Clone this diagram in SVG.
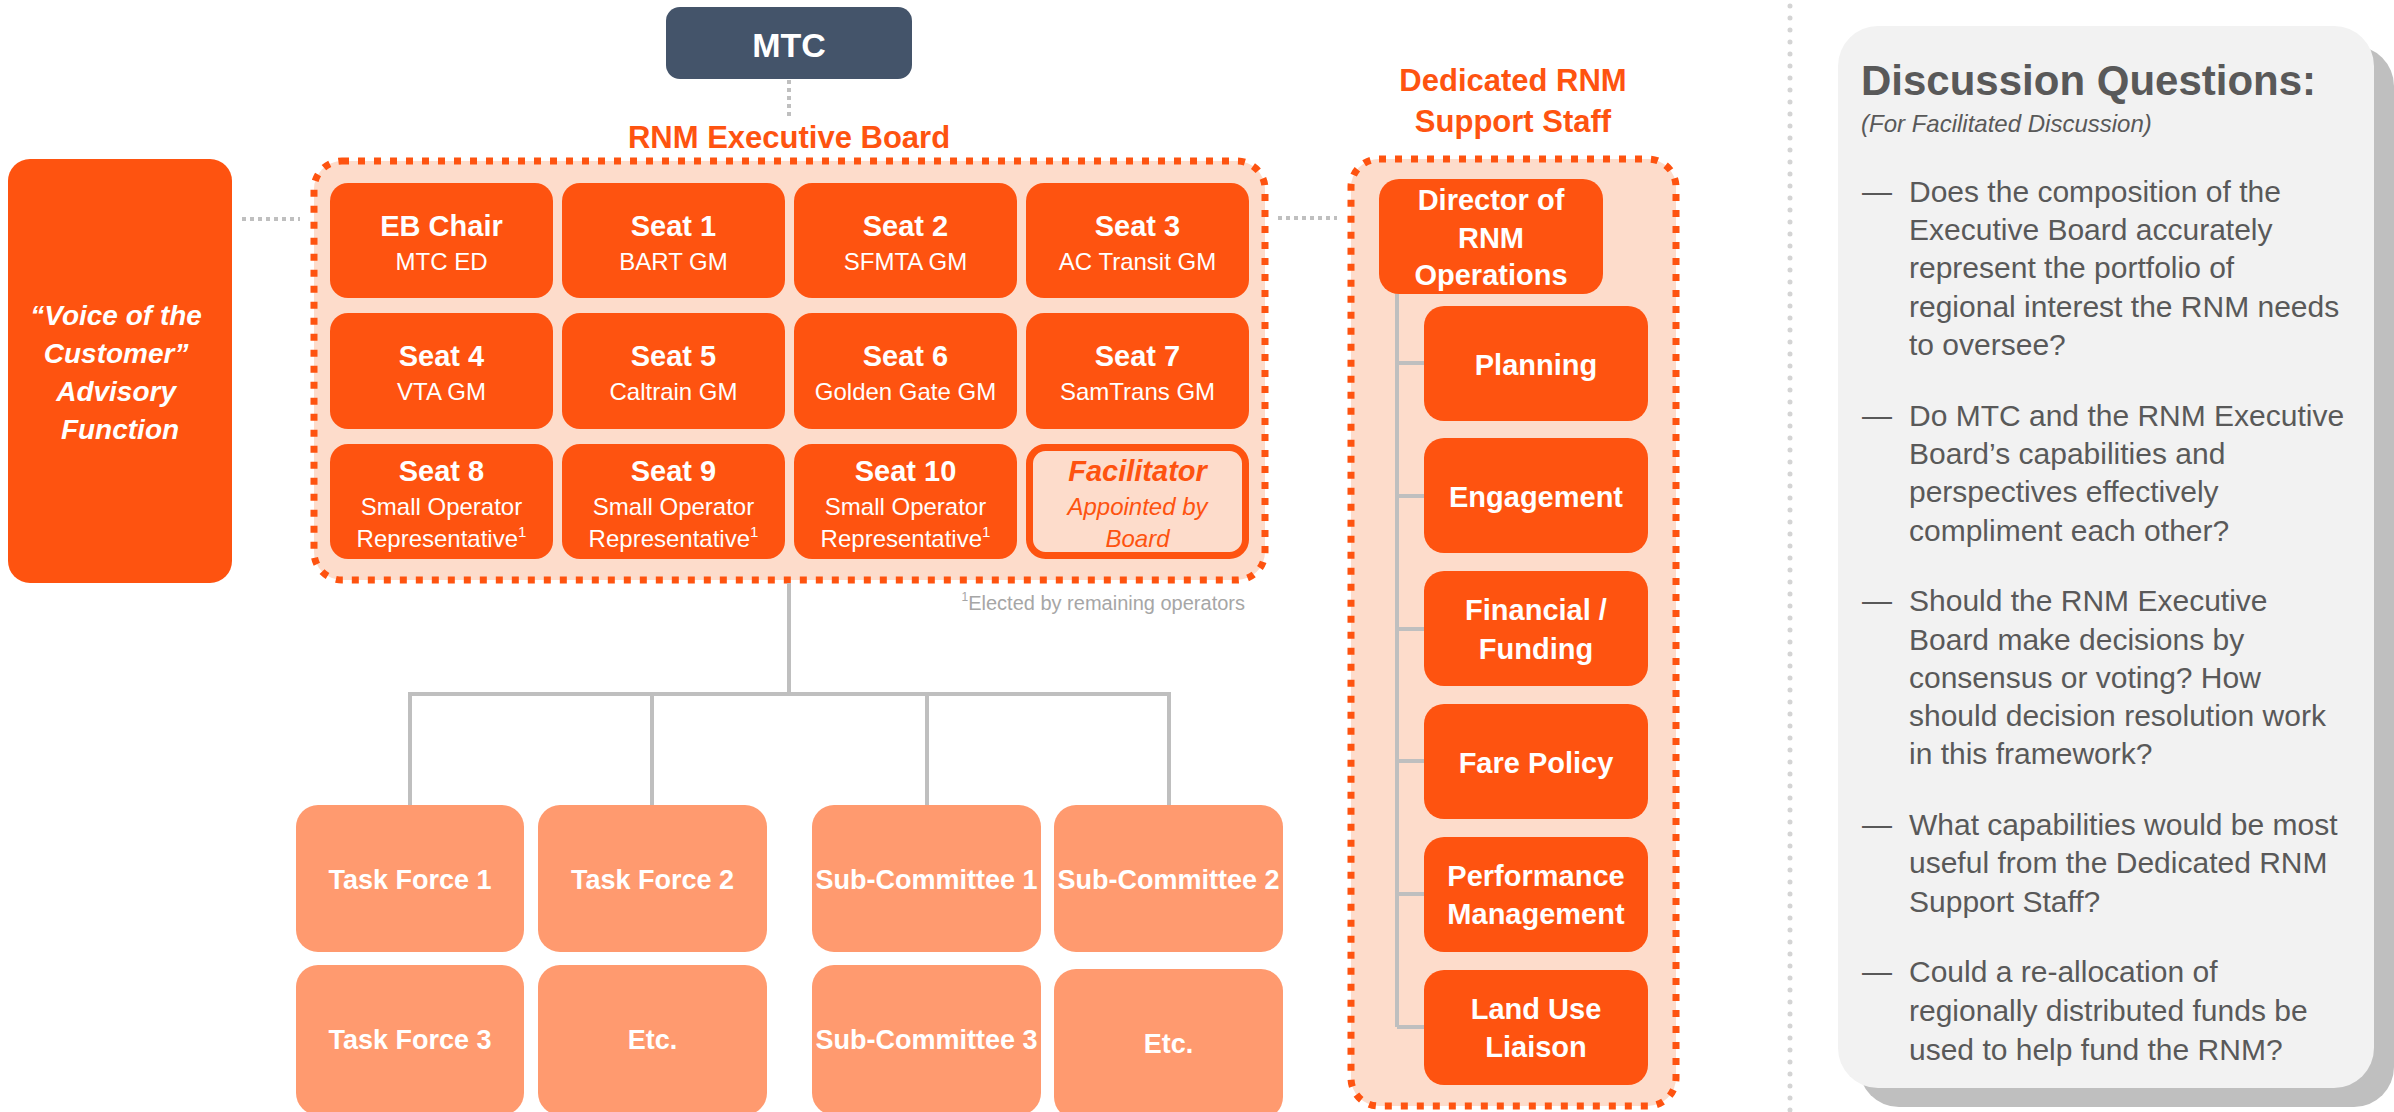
<svg xmlns="http://www.w3.org/2000/svg" width="2394" height="1112" viewBox="0 0 2394 1112">
<style>
text{font-family:"Liberation Sans",Arial,sans-serif}
.org{fill:#FE5310}
.salmon{fill:#FF9A6F}
.peach{fill:#FDDCCB}
.t{fill:#fff;font-weight:bold;font-size:29px;text-anchor:middle}
.s{fill:#fff;font-size:24px;text-anchor:middle}
.lo{fill:#fff;font-weight:bold;font-size:27px;text-anchor:middle}
.ttl{fill:#FE5310;font-weight:bold;font-size:31px;text-anchor:middle}
.q{fill:#595959;font-size:30px}
.dash{fill:none;stroke:#FE5310;stroke-width:7;stroke-dasharray:7 9}
.dot{fill:none;stroke:#BFBFBF;stroke-width:4;stroke-dasharray:4 4}
.ln{fill:none;stroke:#BFBFBF;stroke-width:4}
</style>

<!-- separator -->
<line x1="1790" y1="6" x2="1790" y2="1112" stroke="#D4D4D4" stroke-width="5" stroke-linecap="round" stroke-dasharray="0 12"/>

<!-- containers -->
<g id="exec-board">
<rect x="314" y="161" width="951" height="419" rx="28" class="peach"/>
<rect x="314" y="161" width="951" height="419" rx="28" class="dash"/>
<text x="789" y="148" class="ttl">RNM Executive Board</text>
</g>
<g id="support-staff">
<rect x="1351" y="159" width="325" height="947" rx="28" class="peach"/>
<rect x="1351" y="159" width="325" height="947" rx="28" class="dash"/>
<text x="1513" y="91" class="ttl">Dedicated RNM</text>
<text x="1513" y="132" class="ttl">Support Staff</text>
</g>

<!-- connectors -->
<g id="connectors">
<line x1="789" y1="80" x2="789" y2="118" class="dot"/>
<line x1="242" y1="219" x2="300" y2="219" class="dot"/>
<line x1="1278" y1="218" x2="1337" y2="218" class="dot"/>
<polyline points="789,583 789,694" class="ln"/>
<polyline points="410,805 410,694 1169,694 1169,805" class="ln"/>
<line x1="652" y1="694" x2="652" y2="805" class="ln"/>
<line x1="927" y1="694" x2="927" y2="805" class="ln"/>
<line x1="1397" y1="294" x2="1397" y2="1027" class="ln"/>
<line x1="1397" y1="363" x2="1426" y2="363" class="ln"/>
<line x1="1397" y1="496" x2="1426" y2="496" class="ln"/>
<line x1="1397" y1="629" x2="1426" y2="629" class="ln"/>
<line x1="1397" y1="761" x2="1426" y2="761" class="ln"/>
<line x1="1397" y1="894" x2="1426" y2="894" class="ln"/>
<line x1="1397" y1="1027" x2="1426" y2="1027" class="ln"/>
</g>

<!-- MTC -->
<g id="mtc">
<rect x="666" y="7" width="246" height="72" rx="14" fill="#44546A"/>
<text x="789" y="57" fill="#fff" font-weight="bold" font-size="34" text-anchor="middle">MTC</text>
</g>

<!-- Voice of the Customer -->
<g id="voice">
<rect x="8" y="159" width="224" height="424" rx="22" class="org"/>
<text fill="#fff" font-weight="bold" font-style="italic" font-size="28" text-anchor="middle">
<tspan x="120" y="325">“Voice of the</tspan>
<tspan x="120" y="363">Customer”</tspan>
<tspan x="120" y="401">Advisory</tspan>
<tspan x="120" y="439">Function</tspan>
</text>
</g>

<!-- Seats row 1 -->
<g id="eb-chair"><rect x="330" y="183" width="223" height="115" rx="18" class="org"/><text x="441.5" y="236" class="t">EB Chair</text><text x="441.5" y="270" class="s">MTC ED</text></g>
<g id="seat1"><rect x="562" y="183" width="223" height="115" rx="18" class="org"/><text x="673.5" y="236" class="t">Seat 1</text><text x="673.5" y="270" class="s">BART GM</text></g>
<g id="seat2"><rect x="794" y="183" width="223" height="115" rx="18" class="org"/><text x="905.5" y="236" class="t">Seat 2</text><text x="905.5" y="270" class="s">SFMTA GM</text></g>
<g id="seat3"><rect x="1026" y="183" width="223" height="115" rx="18" class="org"/><text x="1137.5" y="236" class="t">Seat 3</text><text x="1137.5" y="270" class="s">AC Transit GM</text></g>

<!-- Seats row 2 -->
<g id="seat4"><rect x="330" y="313" width="223" height="116" rx="18" class="org"/><text x="441.5" y="366" class="t">Seat 4</text><text x="441.5" y="400" class="s">VTA GM</text></g>
<g id="seat5"><rect x="562" y="313" width="223" height="116" rx="18" class="org"/><text x="673.5" y="366" class="t">Seat 5</text><text x="673.5" y="400" class="s">Caltrain GM</text></g>
<g id="seat6"><rect x="794" y="313" width="223" height="116" rx="18" class="org"/><text x="905.5" y="366" class="t">Seat 6</text><text x="905.5" y="400" class="s">Golden Gate GM</text></g>
<g id="seat7"><rect x="1026" y="313" width="223" height="116" rx="18" class="org"/><text x="1137.5" y="366" class="t">Seat 7</text><text x="1137.5" y="400" class="s">SamTrans GM</text></g>

<!-- Seats row 3 -->
<g id="seat8"><rect x="330" y="444" width="223" height="115" rx="18" class="org"/><text x="441.5" y="481" class="t">Seat 8</text><text x="441.5" y="515" class="s">Small Operator</text><text x="441.5" y="547" class="s">Representative<tspan font-size="15" dy="-10">1</tspan></text></g>
<g id="seat9"><rect x="562" y="444" width="223" height="115" rx="18" class="org"/><text x="673.5" y="481" class="t">Seat 9</text><text x="673.5" y="515" class="s">Small Operator</text><text x="673.5" y="547" class="s">Representative<tspan font-size="15" dy="-10">1</tspan></text></g>
<g id="seat10"><rect x="794" y="444" width="223" height="115" rx="18" class="org"/><text x="905.5" y="481" class="t">Seat 10</text><text x="905.5" y="515" class="s">Small Operator</text><text x="905.5" y="547" class="s">Representative<tspan font-size="15" dy="-10">1</tspan></text></g>
<g id="facilitator"><rect x="1029.5" y="447.5" width="216" height="108" rx="16" class="peach" stroke="#FE5310" stroke-width="7"/><text x="1137.5" y="481" fill="#FE5310" font-weight="bold" font-style="italic" font-size="29" text-anchor="middle">Facilitator</text><text x="1137.5" y="515" fill="#FE5310" font-style="italic" font-size="24" text-anchor="middle">Appointed by</text><text x="1137.5" y="547" fill="#FE5310" font-style="italic" font-size="24" text-anchor="middle">Board</text></g>

<g id="footnote"><text x="1245" y="610" fill="#A6A6A6" font-size="20" text-anchor="end"><tspan font-size="12" dy="-9">1</tspan><tspan dy="9">Elected by remaining operators</tspan></text></g>

<!-- lower boxes -->
<g id="task-force-1"><rect x="296" y="805" width="228" height="147" rx="22" class="salmon"/><text x="410" y="889" class="lo">Task Force 1</text></g>
<g id="task-force-2"><rect x="538" y="805" width="229" height="147" rx="22" class="salmon"/><text x="652.5" y="889" class="lo">Task Force 2</text></g>
<g id="sub-committee-1"><rect x="812" y="805" width="229" height="147" rx="22" class="salmon"/><text x="926.5" y="889" class="lo" font-size="26">Sub-Committee 1</text></g>
<g id="sub-committee-2"><rect x="1054" y="805" width="229" height="147" rx="22" class="salmon"/><text x="1168.5" y="889" class="lo" font-size="26">Sub-Committee 2</text></g>
<g id="task-force-3"><rect x="296" y="965" width="228" height="150" rx="22" class="salmon"/><text x="410" y="1049" class="lo">Task Force 3</text></g>
<g id="etc-1"><rect x="538" y="965" width="229" height="150" rx="22" class="salmon"/><text x="652.5" y="1049" class="lo">Etc.</text></g>
<g id="sub-committee-3"><rect x="812" y="965" width="229" height="150" rx="22" class="salmon"/><text x="926.5" y="1049" class="lo" font-size="26">Sub-Committee 3</text></g>
<g id="etc-2"><rect x="1054" y="969" width="229" height="150" rx="22" class="salmon"/><text x="1168.5" y="1053" class="lo">Etc.</text></g>

<!-- support staff nodes -->
<g id="director"><rect x="1379" y="179" width="224" height="115" rx="20" class="org"/><text x="1491" y="210" class="t">Director of</text><text x="1491" y="248" class="t">RNM</text><text x="1491" y="285" class="t">Operations</text></g>
<g id="planning"><rect x="1424" y="306" width="224" height="115" rx="20" class="org"/><text x="1536" y="375" class="t">Planning</text></g>
<g id="engagement"><rect x="1424" y="438" width="224" height="115" rx="20" class="org"/><text x="1536" y="507" class="t">Engagement</text></g>
<g id="financial"><rect x="1424" y="571" width="224" height="115" rx="20" class="org"/><text x="1536" y="620" class="t">Financial /</text><text x="1536" y="659" class="t">Funding</text></g>
<g id="fare-policy"><rect x="1424" y="704" width="224" height="115" rx="20" class="org"/><text x="1536" y="773" class="t">Fare Policy</text></g>
<g id="performance"><rect x="1424" y="837" width="224" height="115" rx="20" class="org"/><text x="1536" y="886" class="t">Performance</text><text x="1536" y="924" class="t">Management</text></g>
<g id="land-use"><rect x="1424" y="970" width="224" height="115" rx="20" class="org"/><text x="1536" y="1019" class="t">Land Use</text><text x="1536" y="1057" class="t">Liaison</text></g>

<!-- discussion panel -->
<g id="discussion">
<rect x="1859" y="46" width="535" height="1061" rx="40" fill="#BFBFBF"/>
<rect x="1838" y="26" width="536" height="1062" rx="40" fill="#F2F2F2"/>
<text x="1861" y="95" fill="#595959" font-weight="bold" font-size="42">Discussion Questions:</text>
<text x="1861" y="132" fill="#595959" font-style="italic" font-size="24">(For Facilitated Discussion)</text>
<g class="q">
<text x="1862" y="202" class="q">—</text>
<text class="q"><tspan x="1909" y="202">Does the composition of the</tspan><tspan x="1909" y="240">Executive Board accurately</tspan><tspan x="1909" y="278">represent the portfolio of</tspan><tspan x="1909" y="317">regional interest the RNM needs</tspan><tspan x="1909" y="355">to oversee?</tspan></text>
<text x="1862" y="426" class="q">—</text>
<text class="q"><tspan x="1909" y="426">Do MTC and the RNM Executive</tspan><tspan x="1909" y="464">Board’s capabilities and</tspan><tspan x="1909" y="502">perspectives effectively</tspan><tspan x="1909" y="541">compliment each other?</tspan></text>
<text x="1862" y="611" class="q">—</text>
<text class="q"><tspan x="1909" y="611">Should the RNM Executive</tspan><tspan x="1909" y="650">Board make decisions by</tspan><tspan x="1909" y="688">consensus or voting? How</tspan><tspan x="1909" y="726">should decision resolution work</tspan><tspan x="1909" y="764">in this framework?</tspan></text>
<text x="1862" y="835" class="q">—</text>
<text class="q"><tspan x="1909" y="835">What capabilities would be most</tspan><tspan x="1909" y="873">useful from the Dedicated RNM</tspan><tspan x="1909" y="912">Support Staff?</tspan></text>
<text x="1862" y="982" class="q">—</text>
<text class="q"><tspan x="1909" y="982">Could a re-allocation of</tspan><tspan x="1909" y="1021">regionally distributed funds be</tspan><tspan x="1909" y="1060">used to help fund the RNM?</tspan></text>
</g>
</g>
</svg>
